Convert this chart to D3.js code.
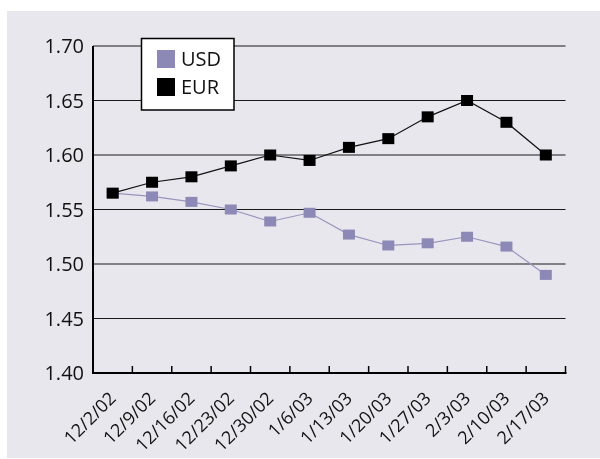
<!DOCTYPE html>
<html>
<head>
<meta charset="utf-8">
<script src="https://cdn.jsdelivr.net/npm/d3@7"></script>
<style>
  html, body { margin: 0; padding: 0; background: #ffffff; }
  svg { display: block; will-change: transform; }
  text { font-family: "Open Sans", "Noto Sans", sans-serif; fill: #111; }
</style>
</head>
<body>
<svg id="chart" width="600" height="459"></svg>
<script>
// Weekly exchange rates, Dec 2002 – Feb 2003
const dates = ["12/2/02", "12/9/02", "12/16/02", "12/23/02", "12/30/02", "1/6/03",
               "1/13/03", "1/20/03", "1/27/03", "2/3/03", "2/10/03", "2/17/03"];
const usd = [1.565, 1.562, 1.557, 1.550, 1.539, 1.547, 1.527, 1.517, 1.519, 1.525, 1.516, 1.490];
const eur = [1.565, 1.575, 1.580, 1.590, 1.600, 1.595, 1.607, 1.615, 1.635, 1.650, 1.630, 1.600];
const yTicks = [1.40, 1.45, 1.50, 1.55, 1.60, 1.65, 1.70];

const series = [
  { name: "USD", values: usd, color: "#8d89b6", mw: 12, mh: 10, lw: 1.2, line: "#9894bd" },
  { name: "EUR", values: eur, color: "#000000", mw: 12, mh: 11, lw: 1.2, line: "#111111" }
];

const svg = d3.select("#chart");

// panel background
svg.append("rect").attr("x", 7).attr("y", 11).attr("width", 593).attr("height", 447)
  .attr("fill", "#e9e7ee");

const plotL = 93, plotR = 565.5, plotT = 46, plotB = 373;

const x = d3.scaleBand().domain(dates).range([plotL, plotR]).paddingInner(0).paddingOuter(0);
const y = d3.scaleLinear().domain([1.40, 1.70]).range([plotB, plotT]);

// horizontal grid lines
svg.append("g").selectAll("line").data(yTicks.filter(v => v > 1.40)).join("line")
  .attr("x1", plotL).attr("x2", plotR)
  .attr("y1", d => y(d)).attr("y2", d => y(d))
  .attr("stroke", "#1a1a1a").attr("stroke-width", 1.2);

// y tick labels
svg.append("g").selectAll("text").data(yTicks).join("text")
  .attr("x", 84).attr("y", d => y(d))
  .attr("dy", "0.36em")
  .attr("text-anchor", "end")
  .attr("font-size", 20)
  .text(d => d.toFixed(2));

// y axis line
svg.append("line").attr("x1", plotL).attr("x2", plotL).attr("y1", plotT).attr("y2", plotB + 1)
  .attr("stroke", "#000").attr("stroke-width", 2);

// x axis with inward ticks at category boundaries
const bounds = dates.map(d => x(d)).concat([plotR]).slice(1);
svg.append("line").attr("x1", plotL - 1).attr("x2", plotR + 1).attr("y1", plotB).attr("y2", plotB)
  .attr("stroke", "#000").attr("stroke-width", 2);
svg.append("g").selectAll("line").data(bounds).join("line")
  .attr("x1", d => d).attr("x2", d => d)
  .attr("y1", plotB).attr("y2", plotB - 7)
  .attr("stroke", "#000").attr("stroke-width", 1.5);

// rotated date labels
svg.append("g").selectAll("text").data(dates).join("text")
  .attr("transform", d => `translate(${x(d) + x.bandwidth() / 2},${plotB + 22}) rotate(-45)`)
  .attr("text-anchor", "end")
  .attr("dy", "0.35em")
  .attr("font-size", 18)
  .text(d => d);

// lines and square markers
const cx = (d, i) => x(dates[i]) + x.bandwidth() / 2;
series.forEach(s => {
  const line = d3.line().x((d, i) => cx(d, i)).y(d => y(d));
  svg.append("path").datum(s.values)
    .attr("d", line).attr("fill", "none")
    .attr("stroke", s.line).attr("stroke-width", s.lw);
  svg.append("g").selectAll("rect").data(s.values).join("rect")
    .attr("x", (d, i) => cx(d, i) - s.mw / 2)
    .attr("y", d => y(d) - s.mh / 2)
    .attr("width", s.mw).attr("height", s.mh)
    .attr("fill", s.color);
});

// legend
const lg = svg.append("g");
lg.append("rect").attr("x", 141.5).attr("y", 38.5).attr("width", 92.5).attr("height", 71.5)
  .attr("fill", "#fff").attr("stroke", "#000").attr("stroke-width", 1.5);
series.forEach((s, i) => {
  lg.append("rect").attr("x", 157).attr("y", 50 + i * 28).attr("width", 18).attr("height", 18)
    .attr("fill", s.color);
  lg.append("text").attr("x", 181).attr("y", 59 + i * 28).attr("dy", "0.36em")
    .attr("font-size", 20).text(s.name);
});
</script>
</body>
</html>
